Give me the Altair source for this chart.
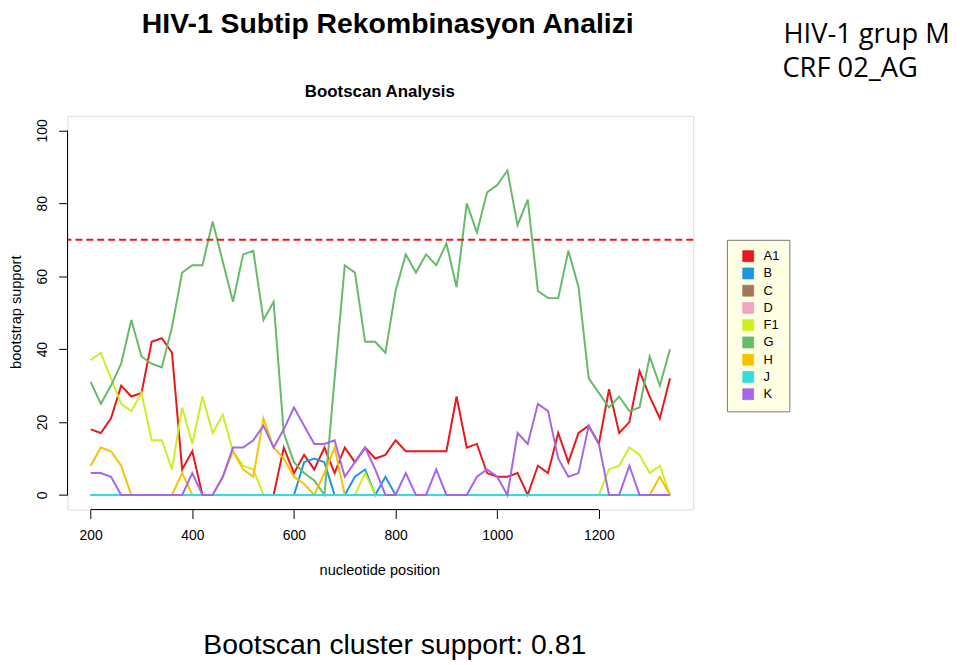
import altair as alt
import pandas as pd

# ---- data ----
positions = list(range(200, 1341, 20))
subtypes = ["A1", "B", "C", "D", "F1", "G", "H", "J", "K"]
palette = ["#E41A1C", "#1E96DC", "#A0785A", "#F2A3C7", "#CCEE22",
           "#66BB6A", "#F7C200", "#33DDDD", "#A566E8"]

a1 = [18, 17, 21, 30, 27, 28, 42, 43, 39, 7,
      12, 0, 0, 0, 0, 0, 0, 0, 0, 13,
      6, 11, 7, 13, 6, 13, 9, 13, 10, 11,
      15, 12, 12, 12, 12, 12, 27, 13, 14, 6,
      5, 5, 6, 0, 8, 6, 17, 9, 17, 19,
      14, 29, 17, 20, 34, 27, 21, 32]
b = [0, 0, 0, 0, 0, 0, 0, 0, 0, 0,
     0, 0, 0, 0, 0, 0, 0, 0, 0, 0,
     0, 9, 10, 9, 0, 0, 5, 7, 0, 5,
     0, 0, 0, 0, 0, 0, 0, 0, 0, 0,
     0, 0, 0, 0, 0, 0, 0, 0, 0, 0,
     0, 0, 0, 0, 0, 0, 0, 0]
c = [0, 0, 0, 0, 0, 0, 0, 0, 0, 0,
     0, 0, 0, 0, 0, 0, 0, 0, 0, 0,
     0, 0, 0, 0, 0, 0, 0, 0, 0, 0,
     0, 0, 0, 0, 0, 0, 0, 0, 0, 0,
     0, 0, 0, 0, 0, 0, 0, 0, 0, 0,
     0, 0, 0, 0, 0, 0, 0, 0]
d = [0, 0, 0, 0, 0, 0, 0, 0, 0, 0,
     0, 0, 0, 0, 0, 0, 0, 0, 0, 0,
     0, 0, 0, 0, 0, 0, 0, 0, 0, 0,
     0, 0, 0, 0, 0, 0, 0, 0, 0, 0,
     0, 0, 0, 0, 0, 0, 0, 0, 0, 0,
     0, 0, 0, 0, 0, 0, 0, 0]
f1 = [37, 39, 32, 25, 23, 28, 15, 15, 7, 24,
      14, 27, 17, 22, 12, 8, 7, 0, 0, 0,
      0, 0, 0, 0, 0, 0, 0, 6, 0, 0,
      0, 0, 0, 0, 0, 0, 0, 0, 0, 0,
      0, 0, 0, 0, 0, 0, 0, 0, 0, 0,
      0, 7, 8, 13, 11, 6, 8, 0]
g = [31, 25, 30, 36, 48, 38, 36, 35, 46, 61,
     63, 63, 75, 64, 53, 66, 67, 48, 53, 17,
     9, 6, 4, 0, 32, 63, 61, 42, 42, 39,
     56, 66, 61, 66, 63, 69, 57, 80, 72, 83,
     85, 89, 74, 81, 56, 54, 54, 67, 57, 32,
     28, 24, 27, 23, 24, 38, 30, 40]
h = [8, 13, 12, 8, 0, 0, 0, 0, 0, 6,
     0, 0, 0, 5, 12, 7, 5, 21, 13, 10,
     5, 3, 0, 6, 13, 0, 0, 0, 0, 0,
     0, 0, 0, 0, 0, 0, 0, 0, 0, 0,
     0, 0, 0, 0, 0, 0, 0, 0, 0, 0,
     0, 0, 0, 0, 0, 0, 5, 0]
j = [0, 0, 0, 0, 0, 0, 0, 0, 0, 0,
     0, 0, 0, 0, 0, 0, 0, 0, 0, 0,
     0, 0, 0, 0, 0, 0, 0, 0, 0, 0,
     0, 0, 0, 0, 0, 0, 0, 0, 0, 0,
     0, 0, 0, 0, 0, 0, 0, 0, 0, 0,
     0, 0, 0, 0, 0, 0, 0, 0]
k = [6, 6, 5, 0, 0, 0, 0, 0, 0, 0,
     6, 0, 0, 5, 13, 13, 15, 19, 13, 18,
     24, 19, 14, 14, 15, 5, 9, 13, 7, 0,
     0, 6, 0, 0, 7, 0, 0, 0, 5, 7,
     5, 0, 17, 14, 25, 23, 10, 5, 6, 19,
     14, 0, 0, 8, 0, 0, 0, 0]

threshold = 70
x_ticks = [200, 400, 600, 800, 1000, 1200]
y_ticks = [0, 20, 40, 60, 80, 100]

slide_title = "HIV-1 Subtip Rekombinasyon Analizi"
side_lines = ["HIV-1 grup M", "CRF 02_AG"]
plot_title = "Bootscan Analysis"
x_title = "nucleotide position"
y_title = "bootstrap support"
footer = "Bootscan cluster support: 0.81"

# ---- build table ----
series = dict(zip(subtypes, [a1, b, c, d, f1, g, h, j, k]))
rows = []
for s in subtypes:
    for p, v in zip(positions, series[s]):
        rows.append({"pos": p, "support": v, "subtype": s})
df = pd.DataFrame(rows)

W, H = 631, 397
FONT = "Liberation Sans"
xs = alt.Scale(domain=[154.4, 1385.6], nice=False, zero=False)
ys = alt.Scale(domain=[-4, 104], nice=False, zero=False)

x_axis = alt.Axis(
    values=x_ticks, format="d", title=None, domain=False, grid=False, tickSize=9,
    tickColor="#000", labelColor="#000", labelFont=FONT, labelFontSize=14,
    labelPadding=10, labelFlush=False, labelOverlap=False)
y_axis = alt.Axis(
    values=y_ticks, format="d", title=None, domain=False, grid=False, tickSize=9,
    tickColor="#000", labelColor="#000", labelFont=FONT, labelFontSize=14,
    labelAngle=270, labelAlign="center", labelBaseline="bottom",
    labelPadding=9, labelFlush=False, labelOverlap=False)

color_scale = alt.Scale(domain=subtypes, range=palette)
legend = alt.Legend(
    title=None, orient="none", legendX=665, legendY=125,
    fillColor="#FFFFE3", strokeColor="#777", padding=10,
    symbolType="square", symbolSize=121, symbolOffset=5, labelFont=FONT,
    labelFontSize=13, labelColor="#000", rowPadding=2.4, labelOffset=9,
    symbolStrokeColor="#444", symbolStrokeWidth=0.8, symbolOpacity=1)

# invisible filled squares: give the legend filled square keys
keys = alt.Chart(df).mark_square(size=0, filled=True, opacity=1).encode(
    x=alt.X("pos:Q", scale=xs, axis=x_axis),
    y=alt.Y("support:Q", scale=ys, axis=y_axis),
    color=alt.Color("subtype:N", scale=color_scale, legend=legend),
)

lines = alt.Chart(df).mark_line(strokeWidth=2, strokeJoin="miter").encode(
    x=alt.X("pos:Q", scale=xs, axis=x_axis),
    y=alt.Y("support:Q", scale=ys, axis=y_axis),
    color=alt.Color("subtype:N", scale=color_scale, legend=legend),
)

thr = alt.Chart(pd.DataFrame({"support": [threshold]})).mark_rule(
    color="#E41A1C", strokeDash=[7, 4], strokeWidth=2
).encode(y=alt.Y("support:Q", scale=ys, axis=y_axis))

xaxis_line = alt.Chart(pd.DataFrame({"pos": [x_ticks[0]], "pos2": [x_ticks[-1]]})).mark_rule(
    color="#000", strokeWidth=1
).encode(x=alt.X("pos:Q", scale=xs, axis=x_axis), x2="pos2:Q", y=alt.value(H))

yaxis_line = alt.Chart(pd.DataFrame({"support": [y_ticks[0]], "support2": [y_ticks[-1]]})).mark_rule(
    color="#000", strokeWidth=1
).encode(y=alt.Y("support:Q", scale=ys, axis=y_axis), y2="support2:Q", x=alt.value(0))


def label(text, x, y, size, weight="normal", align="center", angle=0, font=FONT):
    return alt.Chart(pd.DataFrame({"t": [text]})).mark_text(
        font=font, fontSize=size, fontWeight=weight, align=align,
        baseline="alphabetic", angle=angle, color="#000"
    ).encode(x=alt.value(x), y=alt.value(y), text="t:N")


texts = [
    label(slide_title, 323, -84, 28.6, "bold"),
    label(side_lines[0], 722, -73, 27.5, align="left", font="Open Sans"),
    label(side_lines[1], 721, -39, 27.5, align="left", font="Open Sans"),
    label(plot_title, 315, -19, 17, "bold"),
    label(x_title, 315, 463, 14.7),
    label(y_title, -47, 198, 14.7, angle=270),
    label(footer, 137, 543, 28.6, align="left"),
]

chart = alt.layer(keys, lines, thr, xaxis_line, yaxis_line, *texts).properties(
    width=W, height=H,
    padding={"left": 60, "top": 106, "right": 261, "bottom": 154},
    autosize=alt.AutoSizeParams(type="none"),
).configure_view(stroke="#777", strokeWidth=1.2).configure(background="white")

chart.save("out.html", embed_options={"renderer": "svg", "actions": False})
